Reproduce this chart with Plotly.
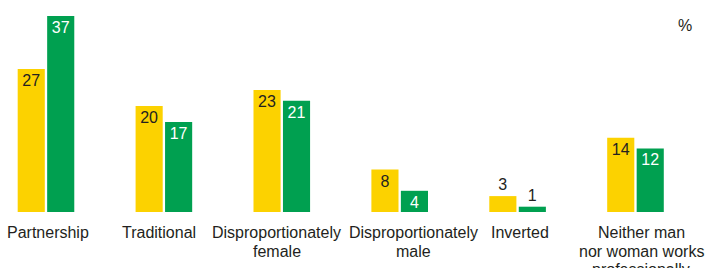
import plotly.graph_objects as go

categories = ["Partnership", "Traditional", "Disproportionately<br>female",
              "Disproportionately<br>male", "Inverted",
              "Neither man<br>nor woman works<br>professionally"]
series_a = [27, 20, 23, 8, 3, 14]   # yellow
series_b = [37, 17, 21, 4, 1, 12]   # green
label_xshift = [2, -5, -5, 14, 2, 6]

YELLOW = "#FCD200"
GREEN = "#00A050"
TXT = "#231F20"
FONT = "Liberation Sans, Arial, sans-serif"
LINE_H = 18.5

def positions(vals):
    return ["outside" if v < 4 else "inside" for v in vals]

fig = go.Figure()
fig.add_trace(go.Bar(
    x=categories, y=series_a, marker=dict(color=YELLOW, line=dict(width=0)),
    text=[str(v) for v in series_a], textposition=positions(series_a),
    insidetextanchor="end", constraintext="none", textangle=0,
    insidetextfont=dict(color=TXT, size=16, family=FONT),
    outsidetextfont=dict(color=TXT, size=16, family=FONT),
    cliponaxis=False, hoverinfo="skip"))
fig.add_trace(go.Bar(
    x=categories, y=series_b, marker=dict(color=GREEN, line=dict(width=0)),
    text=[str(v) for v in series_b], textposition=positions(series_b),
    insidetextanchor="end", constraintext="none", textangle=0,
    insidetextfont=dict(color="white", size=16, family=FONT),
    outsidetextfont=dict(color=TXT, size=16, family=FONT),
    cliponaxis=False, hoverinfo="skip"))

for c, dx in zip(categories, label_xshift):
    for i, line in enumerate(c.split("<br>")):
        fig.add_annotation(x=c, y=0, xref="x", yref="y", text=line, showarrow=False,
                           xanchor="center", yanchor="top",
                           yshift=-10 - i * LINE_H, xshift=dx,
                           align="center", font=dict(size=16, color=TXT, family=FONT))

fig.add_annotation(xref="paper", yref="paper", x=685/708, y=1 - 25/212,
                   xanchor="center", yanchor="middle", text="%",
                   showarrow=False, font=dict(size=16, color=TXT, family=FONT))

fig.update_layout(
    width=708, height=268, margin=dict(l=0, r=0, t=0, b=56),
    paper_bgcolor="white", plot_bgcolor="white",
    barmode="group", bargap=0.5, bargroupgap=0.08,
    showlegend=False,
    xaxis=dict(type="category", range=[-0.39, 5.615], showticklabels=False,
               showgrid=False, zeroline=False, showline=False, ticks=""),
    yaxis=dict(range=[0, 40], visible=False, showgrid=False, zeroline=False),
    font=dict(family=FONT, color=TXT),
)

fig.write_html("out.html", config={"displayModeBar": False},
               post_script="document.body.style.margin='0';document.body.style.overflow='hidden';")
